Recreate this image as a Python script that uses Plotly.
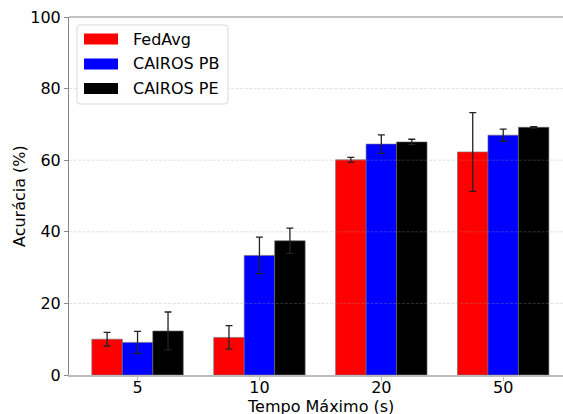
import plotly.graph_objects as go

categories = ["5", "10", "20", "50"]
series_names = ["FedAvg", "CAIROS PB", "CAIROS PE"]
fedavg = [10.0, 10.5, 60.1, 62.3]
fedavg_err = [1.9, 3.3, 0.7, 11.0]
cairos_pb = [9.1, 33.4, 64.5, 67.0]
cairos_pb_err = [3.1, 5.1, 2.6, 1.7]
cairos_pe = [12.3, 37.5, 65.1, 69.2]
cairos_pe_err = [5.3, 3.5, 0.75, 0.2]
colors = ["#ff0000", "#0000ff", "#000000"]
y_ticks = [0, 20, 40, 60, 80, 100]

W, H = 563, 414
L, R, T, B = 69, 0, 17, 39
PW, PH = W - L - R, H - T - B

def px(x):
    return (x - L) / PW

def py(y):
    return (H - B - y) / PH

FONT = "DejaVu Sans"
fig = go.Figure()
for name, vals, errs, col in zip(series_names, [fedavg, cairos_pb, cairos_pe],
                                 [fedavg_err, cairos_pb_err, cairos_pe_err], colors):
    fig.add_trace(go.Bar(
        x=categories, y=vals, name=name,
        marker=dict(color=col, line=dict(color="rgba(110,110,110,0.8)", width=0.8)),
        error_y=dict(type="data", array=errs, visible=True, color="#222222",
                     thickness=1.3, width=3.5),
        showlegend=False,
    ))

shapes = []
# dashed gridlines drawn above bars (like matplotlib default)
for v in y_ticks[1:-1]:
    shapes.append(dict(type="line", xref="paper", yref="y", x0=0, x1=1, y0=v, y1=v,
                       line=dict(color="rgba(160,160,160,0.45)", width=0.7, dash="3px,1.5px"),
                       layer="above"))
# top spine
shapes.append(dict(type="line", xref="paper", yref="paper", x0=0, x1=1, y0=1, y1=1,
                   line=dict(color="#888888", width=1), layer="above"))

# manual legend
shapes.append(dict(type="path",
                   path=f"M {px(80)},{py(25)} L {px(225)},{py(25)} Q {px(228)},{py(25)} {px(228)},{py(28)} "
                        f"L {px(228)},{py(101)} Q {px(228)},{py(104)} {px(225)},{py(104)} "
                        f"L {px(80)},{py(104)} Q {px(77)},{py(104)} {px(77)},{py(101)} "
                        f"L {px(77)},{py(28)} Q {px(77)},{py(25)} {px(80)},{py(25)} Z",
                   xref="paper", yref="paper",
                   line=dict(color="#d9d9d9", width=1), fillcolor="rgba(255,255,255,0.85)",
                   layer="above"))
annotations = []
row_y = [39, 64, 88.5]
for name, col, ry in zip(series_names, colors, row_y):
    shapes.append(dict(type="rect", xref="paper", yref="paper",
                       x0=px(84), x1=px(118), y0=py(ry - 5.5), y1=py(ry + 5.5),
                       line=dict(width=0), fillcolor=col, layer="above"))
    annotations.append(dict(xref="paper", yref="paper", x=px(131), y=py(ry),
                            xanchor="left", yanchor="middle", text=name, showarrow=False,
                            font=dict(family=FONT, size=16, color="black")))

annotations.append(dict(xref="paper", yref="paper", x=px(19), y=0.5, text="Acurácia (%)",
                        textangle=-90, xanchor="center", yanchor="middle", showarrow=False,
                        font=dict(family=FONT, size=16, color="black")))
annotations.append(dict(xref="x", yref="paper", x=1.5, y=py(407), text="Tempo Máximo (s)",
                        xanchor="center", yanchor="middle", showarrow=False,
                        font=dict(family=FONT, size=16, color="black")))

fig.update_layout(
    width=W, height=H,
    margin=dict(l=L, r=R, t=T, b=B, pad=0),
    paper_bgcolor="white", plot_bgcolor="white",
    barmode="group", bargap=0.25, bargroupgap=0,
    font=dict(family=FONT, size=16, color="black"),
    shapes=shapes, annotations=annotations,
    xaxis=dict(type="category", range=[-0.5625, (563 - 137.5) / 121.9],
               showline=True, linecolor="#bbbbbb", linewidth=2,
               ticks="outside", ticklen=3.5, tickcolor="#bbbbbb", tickwidth=1,
               ticklabelstandoff=-7,
               showgrid=False, zeroline=False, tickfont=dict(size=16)),
    yaxis=dict(range=[0, 100], tickvals=y_ticks, showline=True, linecolor="#888888",
               linewidth=1, ticks="outside", ticklen=4, tickcolor="#888888",
               showgrid=False, zeroline=False, tickfont=dict(size=16)),
)
fig.write_html("out.html")
